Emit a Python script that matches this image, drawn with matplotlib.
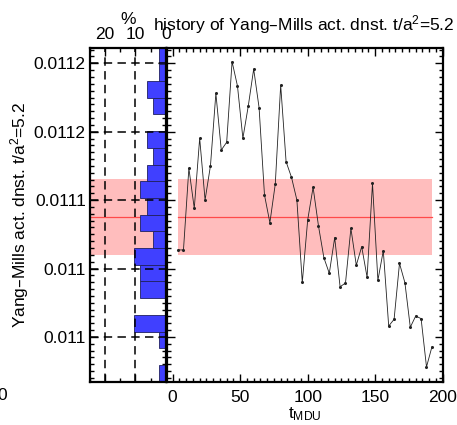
import numpy as np
import matplotlib
matplotlib.use("Agg")
import matplotlib.pyplot as plt
from matplotlib.ticker import FixedLocator, FixedFormatter, MultipleLocator

plt.rcParams['font.family'] = ['Liberation Sans', 'DejaVu Sans']
plt.rcParams['mathtext.default'] = 'regular'

# Monte-Carlo time (MDU) and measured Yang-Mills action density
t_mdu = [4, 8, 12, 16, 20, 24, 28, 32, 36, 40, 44, 48, 52, 56, 60, 64,
         68, 72, 76, 80, 84, 88, 92, 96, 100, 104, 108, 112, 116, 120, 124, 128,
         132, 136, 140, 144, 148, 152, 156, 160, 164, 168, 172, 176, 180, 184, 188, 192]
action = [0.0110636, 0.0110636, 0.0111233, 0.0110940, 0.0111452, 0.0111001, 0.0111252, 0.0111781,
          0.0111366, 0.0111423, 0.0112012, 0.0111834, 0.0111452, 0.0111688, 0.0111958, 0.0111676,
          0.0111038, 0.0110835, 0.0111118, 0.0111841, 0.0111281, 0.0111167, 0.0111001, 0.0110398,
          0.0110855, 0.0111094, 0.0110811, 0.0110579, 0.0110465, 0.0110726, 0.0110367, 0.0110394,
          0.0110794, 0.0110524, 0.0110660, 0.0110436, 0.0111123, 0.0110414, 0.0110631, 0.0110080,
          0.0110129, 0.0110538, 0.0110397, 0.0110071, 0.0110153, 0.0110134, 0.0109781, 0.0109927]
action_err = 2.76e-5

y_range = (0.0109673, 0.0112114)
y_ticks = [0.01100, 0.01105, 0.01110, 0.01115, 0.01120]
y_ticklabels = ["0.011", "0.011", "0.0111", "0.0112", "0.0112"]
pct_ticks = [0, 10, 20]
n_bins = 20

ylabel = "Yang\u2013Mills act. dnst. t/a$^2$=5.2"
title = "history of Yang\u2013Mills act. dnst. t/a$^2$=5.2"

band_color = "#ffbdbd"
line_color = "#ff4a4a"
bar_color = "#4040ff"

action = np.asarray(action)
mean = action.mean()
counts, edges = np.histogram(action, bins=n_bins, range=y_range)
pct = counts / len(action) * 100.0

W, H = 457, 425
fig = plt.figure(figsize=(W / 100, H / 100), dpi=100)

def fx(px):
    return px / W

def fy(py):
    return 1 - py / H

top_px, bot_px = 47.7, 381.7
ax_h = fig.add_axes([fx(90), fy(bot_px), fx(165.7 - 90), fy(top_px) - fy(bot_px)])
ax_m = fig.add_axes([fx(167), fy(bot_px), fx(442.7 - 167), fy(top_px) - fy(bot_px)])

fs = 12.5
dash = (0, (5.5, 3.5))

# ---- histogram panel ----
ax_h.axhspan(mean - action_err, mean + action_err, color=band_color, lw=0, zorder=1)
ax_h.axhline(mean, color=line_color, lw=0.9, zorder=1.5)
ax_h.barh(edges[:-1], pct, height=np.diff(edges), align='edge',
          color=bar_color, edgecolor='#202060', linewidth=0.6, zorder=2)
for v in y_ticks:
    ax_h.axhline(v, color='black', lw=1.1, ls=dash, zorder=3)
for p in pct_ticks[1:]:
    ax_h.axvline(p, color='black', lw=1.1, ls=dash, zorder=3)
ax_h.set_xlim(25, 0)
ax_h.set_ylim(*y_range)
ax_h.yaxis.set_major_locator(FixedLocator(y_ticks))
ax_h.yaxis.set_major_formatter(FixedFormatter(y_ticklabels))
ax_h.yaxis.set_minor_locator(MultipleLocator(5e-6))
ax_h.xaxis.set_major_locator(FixedLocator(pct_ticks))
ax_h.xaxis.set_minor_locator(MultipleLocator(5))
ax_h.tick_params(axis='both', which='both', direction='in', top=True, right=True,
                 labeltop=True, labelbottom=False, labelsize=fs, width=1.0, pad=3)
ax_h.tick_params(axis='x', pad=4)
ax_h.tick_params(which='major', length=6)
ax_h.tick_params(which='minor', length=3)
ax_h.set_ylabel(ylabel, fontsize=fs, labelpad=2)
ax_h.set_xlabel("%", fontsize=fs, labelpad=2)
ax_h.xaxis.set_label_position('top')
for s in ax_h.spines.values():
    s.set_linewidth(1.6)

# ---- time-history panel ----
ax_m.fill_between([t_mdu[0], t_mdu[-1]], mean - action_err, mean + action_err,
                  color=band_color, lw=0, zorder=1)
ax_m.plot([t_mdu[0], t_mdu[-1]], [mean, mean], color=line_color, lw=0.9, zorder=1.5)
ax_m.plot(t_mdu, action, color='#222222', lw=0.6, marker='o', markersize=1.2, zorder=3)
ax_m.set_xlim(-4.2, 200)
ax_m.set_ylim(*y_range)
ax_m.xaxis.set_major_locator(MultipleLocator(50))
ax_m.xaxis.set_minor_locator(MultipleLocator(5))
ax_m.yaxis.set_major_locator(FixedLocator(y_ticks))
ax_m.yaxis.set_minor_locator(MultipleLocator(5e-6))
ax_m.tick_params(axis='both', which='both', direction='in', top=True, right=True,
                 labelleft=False, labelsize=fs, width=1.0, pad=6)
ax_m.tick_params(which='major', length=6)
ax_m.tick_params(which='minor', length=3)
ax_m.set_xlabel("t$_{MDU}$", fontsize=fs, labelpad=0)
for s in ax_m.spines.values():
    s.set_linewidth(1.6)

fig.text(fx(153), fy(30), title, fontsize=fs, ha='left', va='baseline')
fig.text(fx(2), fy(395), "0", fontsize=fs, ha='center', va='center')

fig.savefig("out.png", dpi=100)
